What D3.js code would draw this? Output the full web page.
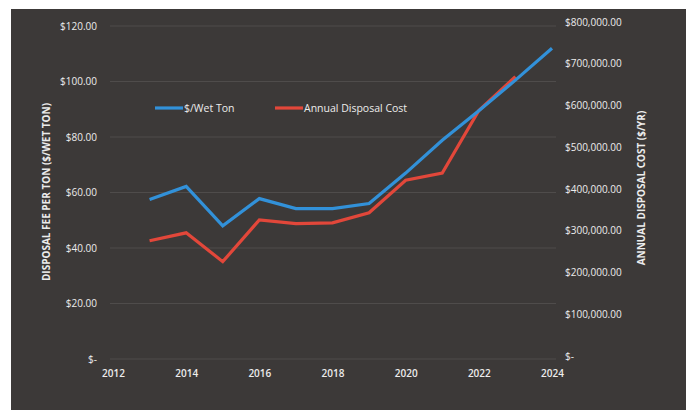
<!DOCTYPE html>
<html>
<head>
<meta charset="utf-8">
<script src="https://cdn.jsdelivr.net/npm/d3@7"></script>
<style>
  body { margin: 0; background: #fff; }
  text { font-family: "Open Sans", "Noto Sans", sans-serif; fill: #ececec; }
</style>
</head>
<body>
<div id="vis"></div>
<script>
const years = [2013, 2014, 2015, 2016, 2017, 2018, 2019, 2020, 2021, 2022, 2023, 2024];
const perTon = [57.5, 62.2, 48.0, 57.8, 54.2, 54.2, 56.0, 67.0, 78.8, 89.5, 100.5, 112.0];
const costYears = [2013, 2014, 2015, 2016, 2017, 2018, 2019, 2020, 2021, 2022, 2023];
const annualCost = [276000, 295000, 226000, 326000, 317000, 319000, 343000, 421000, 438000, 588000, 669000];
const xTicks = [2012, 2014, 2016, 2018, 2020, 2022, 2024];
const leftTicks = [0, 20, 40, 60, 80, 100, 120];
const rightTicks = [0, 100000, 200000, 300000, 400000, 500000, 600000, 700000, 800000];

const width = 686, height = 412;
const blue = '#3291d9', red = '#e2473a';

const svg = d3.select('#vis').append('svg')
  .attr('width', width)
  .attr('height', height);

// dark screen background
svg.append('rect')
  .attr('x', 11).attr('y', 9)
  .attr('width', width - 11).attr('height', 401)
  .attr('fill', '#3c3938');

// scales
const xScale = d3.scaleLinear().domain([2012, 2024]).range([113, 552]);
const yLeft = d3.scaleLinear().domain([0, 120]).range([359, 26]);
const yRight = d3.scaleLinear().domain([0, 800000]).range([356, 22]);

const money = d => d === 0 ? '$-' : '$' + d3.format(',.2f')(d);

// gridlines
svg.append('g').selectAll('line')
  .data(leftTicks)
  .enter()
  .append('line')
  .attr('x1', 110).attr('x2', 556)
  .attr('y1', d => yLeft(d)).attr('y2', d => yLeft(d))
  .attr('stroke', '#8a8583')
  .attr('stroke-width', 1)
  .style('opacity', .25);

// left axis
const leftAxis = svg.append('g')
  .attr('transform', 'translate(97,0)')
  .call(d3.axisLeft(yLeft).tickValues(leftTicks).tickFormat(money).tickSize(0).tickPadding(0));
leftAxis.select('.domain').remove();
leftAxis.selectAll('text').attr('font-size', 10).attr('fill', '#ececec');

// right axis
const rightAxis = svg.append('g')
  .attr('transform', 'translate(565,0)')
  .call(d3.axisRight(yRight).tickValues(rightTicks).tickFormat(money).tickSize(0).tickPadding(0));
rightAxis.select('.domain').remove();
rightAxis.selectAll('text').attr('font-size', 10).attr('fill', '#ececec');

// x axis
const xAxis = svg.append('g')
  .attr('transform', 'translate(0,370)')
  .call(d3.axisBottom(xScale).tickValues(xTicks).tickFormat(d3.format('d')).tickSize(0).tickPadding(0));
xAxis.select('.domain').remove();
xAxis.selectAll('text').attr('font-size', 10).attr('font-weight', 600).attr('fill', '#ececec');

// axis titles
svg.append('text')
  .attr('transform', 'translate(50,192) rotate(-90)')
  .attr('text-anchor', 'middle')
  .attr('font-size', 10)
  .attr('font-weight', 700)
  .text('DISPOSAL FEE PER TON ($/WET TON)');

svg.append('text')
  .attr('transform', 'translate(645,188) rotate(-90)')
  .attr('text-anchor', 'middle')
  .attr('font-size', 10)
  .attr('font-weight', 700)
  .text('ANNUAL DISPOSAL COST ($/YR)');

// lines
const tonLine = d3.line()
  .x((d, i) => xScale(years[i]))
  .y(d => yLeft(d));

const costLine = d3.line()
  .x((d, i) => xScale(costYears[i]))
  .y(d => yRight(d));

svg.append('path')
  .attr('d', costLine(annualCost))
  .attr('fill', 'none')
  .attr('stroke', red)
  .attr('stroke-width', 3.2);

svg.append('path')
  .attr('d', tonLine(perTon))
  .attr('fill', 'none')
  .attr('stroke', blue)
  .attr('stroke-width', 3.2);

// legend
const legend = [
  {label: '$/Wet Ton', color: blue, x: 155},
  {label: 'Annual Disposal Cost', color: red, x: 275}
];
const lg = svg.append('g').selectAll('g')
  .data(legend)
  .enter()
  .append('g')
  .attr('transform', d => 'translate(' + d.x + ',108)');
lg.append('line')
  .attr('x1', 0).attr('x2', 28)
  .attr('stroke', d => d.color)
  .attr('stroke-width', 3.2);
lg.append('text')
  .attr('x', 29).attr('dy', '0.35em')
  .attr('font-size', 10.5)
  .text(d => d.label);
</script>
</body>
</html>
